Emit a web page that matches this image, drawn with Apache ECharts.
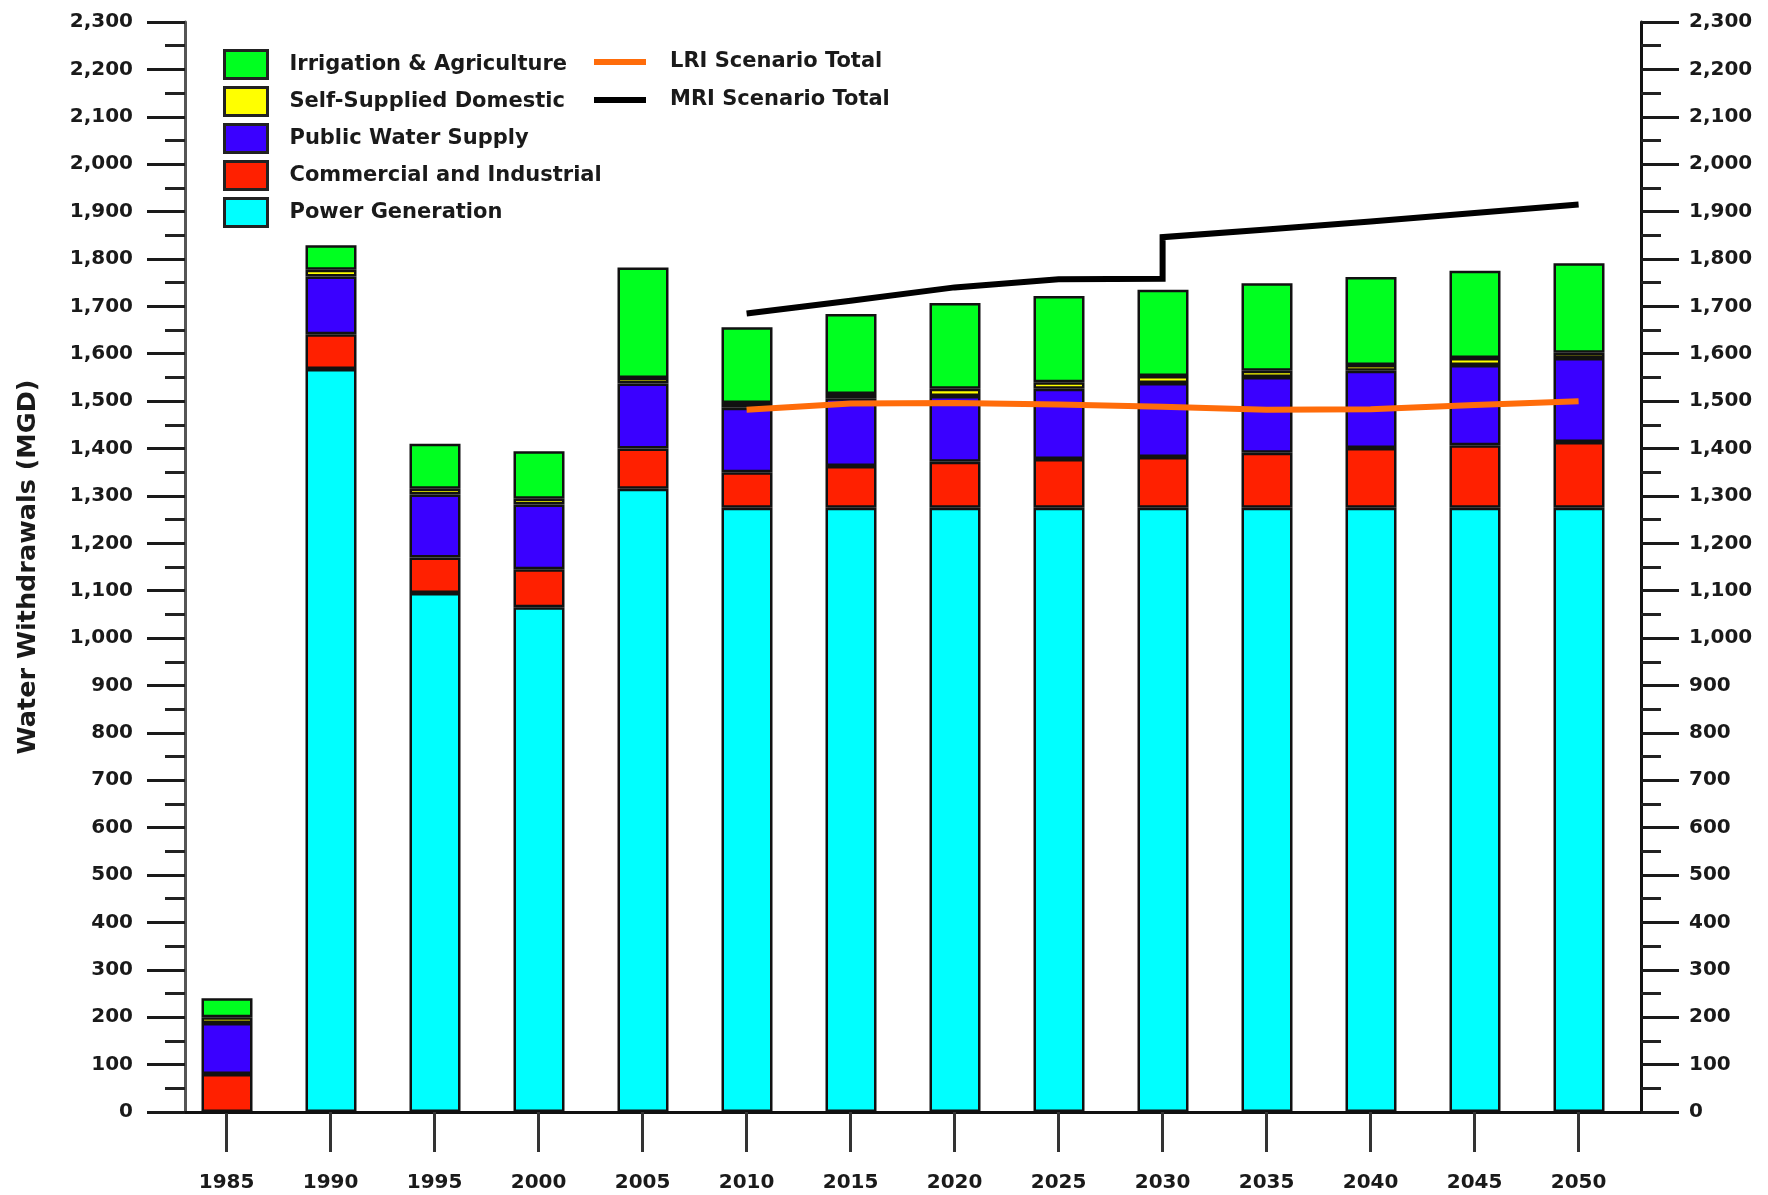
<!DOCTYPE html>
<html>
<head>
<meta charset="utf-8">
<title>Water Withdrawals</title>
<script src="https://cdn.jsdelivr.net/npm/echarts@6/dist/echarts.min.js"></script>
<style>
  html, body { margin: 0; padding: 0; background: #fff; }
  #WaterChart { width: 1768px; height: 1195px; }
</style>
</head>
<body>
<div id="WaterChart"></div>
<script>
// values (MGD)
var years = [1985, 1990, 1995, 2000, 2005, 2010, 2015, 2020, 2025, 2030, 2035, 2040, 2045, 2050];
var powerGen   = [0, 1568, 1095, 1065, 1315, 1275, 1275, 1275, 1275, 1275, 1275, 1275, 1275, 1275];
var commercial = [80, 73, 75, 80, 85, 75, 88, 97, 103, 107, 116, 126, 132, 139];
var publicSupply = [108, 122, 133, 137, 137, 136, 143, 139, 148, 156, 160, 163, 169, 177];
var selfDomestic = [12, 14, 12, 12, 12, 10, 9, 15, 14, 15, 13, 12, 15, 11];
var irrigation = [40, 52, 95, 100, 233, 160, 169, 181, 182, 182, 185, 186, 184, 189];

var lriYears = [2010, 2015, 2020, 2025, 2030, 2035, 2040, 2045, 2050];
var lriTotal = [1482, 1495, 1496, 1493, 1488, 1482, 1483, 1492, 1500];
// MRI has a step at 2030, so that year shows up twice
var mriYears = [2010, 2015, 2020, 2025, 2030, 2030, 2035, 2040, 2045, 2050];
var mriTotal = [1685, 1712, 1740, 1757, 1758, 1846, 1862, 1879, 1897, 1915];

(function(){
    var WaterChart = echarts.init(document.getElementById('WaterChart'));
    var font = 'DejaVu Sans, Verdana, sans-serif';

    function pairs(xs, ys) {
        return xs.map(function (x, i) { return [x, ys[i]]; });
    }
    // bars sit on their own (hidden) category grid so the stack works
    function barSeries(name, color, values) {
        return {
            name: name,
            type: 'bar',
            stack: 'total',
            xAxisIndex: 2,
            yAxisIndex: 2,
            barWidth: 51,
            itemStyle: { color: color, borderColor: '#111', borderWidth: 2.5 },
            data: values
        };
    }
    var yTicks = {
        type: 'value',
        min: 0,
        max: 2300,
        interval: 100,
        splitLine: { show: false },
        axisTick: { show: true, length: 38, lineStyle: { color: '#1a1a1a', width: 3 } },
        minorTick: { show: true, splitNumber: 2, length: 20, lineStyle: { color: '#222', width: 3 } },
        axisLabel: {
            margin: 52,
            fontFamily: font,
            fontWeight: 'bold',
            fontSize: 20,
            color: '#1a1a1a',
            formatter: function (v) { return v.toLocaleString('en-US'); }
        }
    };

    var optionWater = {
        animation: false,
        backgroundColor: '#fff',
        grid: [
            { left: 185, right: 127, top: 22, bottom: 83, containLabel: false, outerBoundsMode: 'none' },
            { left: 175, right: 137, top: 22, bottom: 83, containLabel: false, outerBoundsMode: 'none' }
        ],
        legend: [
            {
                orient: 'vertical',
                left: 223,
                top: 49,
                padding: 0,
                itemWidth: 43,
                itemHeight: 28,
                itemGap: 6,
                icon: 'rect',
                itemStyle: { borderColor: '#222', borderWidth: 3 },
                textStyle: { fontFamily: font, fontWeight: 'bold', fontSize: 21, color: '#1a1a1a', padding: [0, 0, 0, 17] },
                data: ['Irrigation & Agriculture', 'Self-Supplied Domestic', 'Public Water Supply', 'Commercial and Industrial', 'Power Generation']
            },
            {
                orient: 'vertical',
                left: 594,
                top: 47,
                padding: 0,
                itemWidth: 52,
                itemHeight: 6,
                itemGap: 8,
                icon: 'rect',
                textStyle: { fontFamily: font, fontWeight: 'bold', fontSize: 21, color: '#1a1a1a', lineHeight: 30, padding: [0, 0, 0, 19] },
                data: ['LRI Scenario Total', 'MRI Scenario Total']
            }
        ],
        xAxis: [
            {
                type: 'value',
                gridIndex: 0,
                min: 1983,
                max: 2053,
                position: 'bottom',
                splitLine: { show: false },
                axisLine: { show: true, lineStyle: { color: '#444', width: 3 } },
                axisTick: { show: true, length: 40, customValues: years, lineStyle: { color: '#333', width: 3 } },
                axisLabel: {
                    customValues: years,
                    margin: 61,
                    fontFamily: font,
                    fontWeight: 'bold',
                    fontSize: 20,
                    color: '#1a1a1a',
                    formatter: function (v) { return String(v); }
                }
            },
            {
                type: 'value',
                gridIndex: 0,
                min: 1983,
                max: 2053,
                position: 'top',
                splitLine: { show: false },
                axisLine: { show: true, lineStyle: { color: '#111', width: 3 } },
                axisTick: { show: false },
                axisLabel: { show: false }
            },
            {
                type: 'category',
                gridIndex: 1,
                data: years,
                show: false
            }
        ],
        yAxis: [
            Object.assign({}, yTicks, {
                gridIndex: 0,
                position: 'left',
                axisLine: { show: true, lineStyle: { color: '#555', width: 3 } },
                name: 'Water Withdrawals (MGD)',
                nameLocation: 'middle',
                nameGap: 144,
                nameTextStyle: { fontFamily: font, fontWeight: 'bold', fontSize: 25.5, color: '#1a1a1a' }
            }),
            Object.assign({}, yTicks, {
                gridIndex: 0,
                position: 'right',
                axisLine: { show: true, lineStyle: { color: '#111', width: 3 } },
                axisLabel: Object.assign({}, yTicks.axisLabel, { margin: 48 })
            }),
            {
                type: 'value',
                gridIndex: 1,
                min: 0,
                max: 2300,
                show: false
            }
        ],
        series: [
            barSeries('Power Generation', '#00ffff', powerGen),
            barSeries('Commercial and Industrial', '#ff2000', commercial),
            barSeries('Public Water Supply', '#3a00ff', publicSupply),
            barSeries('Self-Supplied Domestic', '#ffff00', selfDomestic),
            barSeries('Irrigation & Agriculture', '#00ff20', irrigation),
            {
                name: 'LRI Scenario Total',
                type: 'line',
                xAxisIndex: 0,
                yAxisIndex: 0,
                showSymbol: false,
                color: '#ff6c0a',
                lineStyle: { color: '#ff6c0a', width: 6 },
                z: 4,
                data: pairs(lriYears, lriTotal)
            },
            {
                name: 'MRI Scenario Total',
                type: 'line',
                xAxisIndex: 0,
                yAxisIndex: 0,
                showSymbol: false,
                color: '#000',
                lineStyle: { color: '#000', width: 6, join: 'miter' },
                z: 4,
                data: pairs(mriYears, mriTotal)
            }
        ]
    };
    WaterChart.setOption(optionWater);
})();
</script>
</body>
</html>
